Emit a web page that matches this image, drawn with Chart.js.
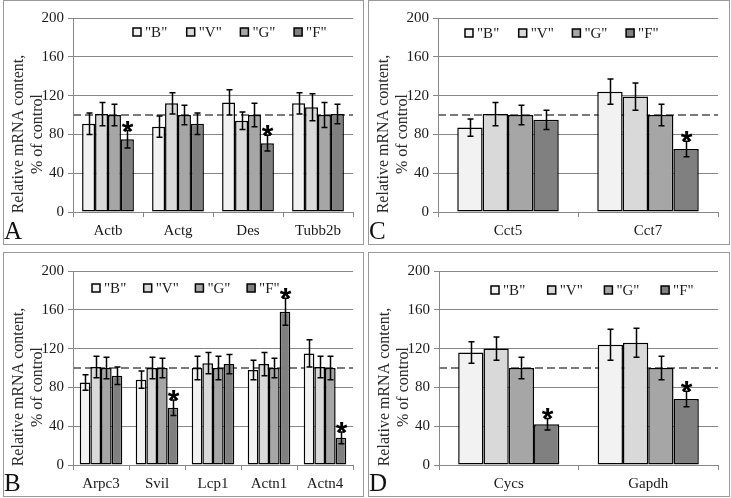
<!DOCTYPE html>
<html><head><meta charset="utf-8">
<script src="https://cdn.jsdelivr.net/npm/chart.js@4"></script>
<style>
html,body{margin:0;padding:0;background:#fff;width:731px;height:498px;overflow:hidden;}
.panel{position:absolute;}
.frame{position:absolute;border:1px solid #9a9a9a;box-sizing:border-box;pointer-events:none;}
</style></head><body>
<div class="panel" style="left:3px;top:0px;width:361px;height:245px"><canvas id="cA"></canvas></div>
<div class="panel" style="left:368px;top:0px;width:362px;height:245px"><canvas id="cC"></canvas></div>
<div class="panel" style="left:3px;top:252px;width:361px;height:245px"><canvas id="cB"></canvas></div>
<div class="panel" style="left:368px;top:252px;width:362px;height:245px"><canvas id="cD"></canvas></div>
<div class="frame" style="left:3px;top:0px;width:361px;height:245px"></div>
<div class="frame" style="left:368px;top:0px;width:362px;height:245px"></div>
<div class="frame" style="left:3px;top:252px;width:361px;height:245px"></div>
<div class="frame" style="left:368px;top:252px;width:362px;height:245px"></div>
<script>
// ---- data ----
const seriesNames = ['"B"', '"V"', '"G"', '"F"'];
const yTicks = [0, 40, 80, 120, 160, 200];
const yTitle = ['Relative mRNA content,', '% of control'];

// Panel A
const genesA = ['Actb', 'Actg', 'Des', 'Tubb2b'];
const A_B = [91, 88, 113, 112];   const A_Berr = [11, 11, 13, 11];
const A_V = [101, 112, 94, 108];  const A_Verr = [12, 11, 9, 14];
const A_G = [100, 100, 100, 100]; const A_Gerr = [11, 10, 12, 13];
const A_F = [75, 91, 71, 101];    const A_Ferr = [9, 11, 8, 10];
const A_star = [true, false, true, false];

// Panel B
const genesB = ['Arpc3', 'Svil', 'Lcp1', 'Actn1', 'Actn4'];
const B_B = [85, 88, 100, 98, 115];     const B_Berr = [8, 9, 12, 10, 14];
const B_V = [101, 100, 105, 104, 101];  const B_Verr = [11, 11, 11, 12, 11];
const B_G = [100, 100, 100, 100, 100];  const B_Gerr = [11, 10, 12, 10, 12];
const B_F = [92, 59, 104, 158, 28];     const B_Ferr = [9, 8, 10, 14, 6];
const B_star = [false, true, false, true, true];

// Panel C
const genesC = ['Cct5', 'Cct7'];
const C_B = [87, 124];  const C_Berr = [9, 13];
const C_V = [101, 119]; const C_Verr = [12, 14];
const C_G = [100, 100]; const C_Gerr = [10, 11];
const C_F = [95, 65];   const C_Ferr = [10, 8];
const C_star = [false, true];

// Panel D
const genesD = ['Cycs', 'Gapdh'];
const D_B = [116, 124]; const D_Berr = [11, 16];
const D_V = [120, 126]; const D_Verr = [12, 15];
const D_G = [100, 100]; const D_Gerr = [11, 12];
const D_F = [42, 68];   const D_Ferr = [6, 8];
const D_star = [true, true];

const controlLevel = 100;

// ---- style ----
const COLORS = ['#f2f2f2', '#d9d9d9', '#a6a6a6', '#808080'];
const GRID = '#878787';
const TEXT = '#1a1a1a';
const SERIF = "'Liberation Serif','Times New Roman',serif";
Chart.defaults.font.family = SERIF;
Chart.defaults.font.size = 15;
Chart.defaults.color = TEXT;

const decor = {
  id: 'decor',
  beforeDatasetsDraw(chart, args, o) {
    const {ctx, chartArea: a, scales: {y}} = chart;
    const yy = Math.round(y.getPixelForValue(controlLevel));
    ctx.save();
    ctx.strokeStyle = '#7a7a7a'; ctx.lineWidth = 2; ctx.setLineDash([8, 4]);
    ctx.beginPath(); ctx.moveTo(a.left, yy); ctx.lineTo(a.right, yy); ctx.stroke();
    ctx.restore();
  },
  afterDatasetsDraw(chart, args, o) {
    const {ctx, scales: {y}} = chart;
    ctx.save();
    chart.data.datasets.forEach((ds, i) => {
      const meta = chart.getDatasetMeta(i);
      meta.data.forEach((el, j) => {
        const v = ds.data[j], e = ds.errors[j];
        const x = Math.round(el.x) + 0.5;
        const t = y.getPixelForValue(v + e), b = y.getPixelForValue(v - e);
        ctx.strokeStyle = '#000'; ctx.lineWidth = 1.5; ctx.setLineDash([]);
        ctx.beginPath();
        ctx.moveTo(x, t); ctx.lineTo(x, b);
        ctx.moveTo(x - 3, t); ctx.lineTo(x + 3, t);
        ctx.moveTo(x - 3, b); ctx.lineTo(x + 3, b);
        ctx.stroke();
        if (ds.stars && ds.stars[j]) {
          ctx.fillStyle = '#000';
          ctx.font = "bold 30px 'Liberation Sans', Arial, sans-serif";
          ctx.textAlign = 'center'; ctx.textBaseline = 'alphabetic';
          ctx.fillText('*', x, t + 10);
        }
      });
    });
    ctx.restore();
  },
  afterDraw(chart, args, o) {
    const {ctx, chartArea: a} = chart;
    ctx.save();
    // legend
    ctx.font = '15px ' + SERIF;
    ctx.textBaseline = 'middle'; ctx.textAlign = 'left';
    const ly = a.top + o.legendY;
    chart.data.datasets.forEach((ds, i) => {
      const bx = a.left + o.legendX + i * o.legendDX;
      ctx.fillStyle = ds.backgroundColor;
      ctx.fillRect(bx, ly - 4, 8, 8);
      ctx.strokeStyle = '#000'; ctx.lineWidth = 1.5;
      ctx.strokeRect(bx, ly - 4, 8, 8);
      ctx.fillStyle = TEXT;
      ctx.fillText(ds.label, bx + 12, ly + 1);
    });
    // y title
    const cy = (a.top + a.bottom) / 2 + 19;
    ctx.font = '16px ' + SERIF;
    ctx.textAlign = 'center'; ctx.textBaseline = 'middle';
    ctx.fillStyle = '#2a2a2a';
    yTitle.forEach((line, k) => {
      ctx.save();
      ctx.translate(a.left + (k === 0 ? -54 : -35), cy);
      ctx.rotate(-Math.PI / 2);
      ctx.fillText(line, 0, 0);
      ctx.restore();
    });
    // panel letter
    ctx.font = '25px ' + SERIF;
    ctx.textAlign = 'left'; ctx.textBaseline = 'alphabetic';
    ctx.fillStyle = '#111';
    ctx.fillText(o.letter, 1, chart.height - 6);
    ctx.restore();
  }
};

const Y_W = 60, X_H = 30;
function makeChart(id, genes, vals, errs, stars, cfg) {
  const datasets = seriesNames.map((name, k) => ({
    label: name, data: vals[k], errors: errs[k], stars: k === 3 ? stars : null,
    backgroundColor: COLORS[k], borderColor: '#000', borderWidth: 1.5, borderSkipped: false,
    categoryPercentage: cfg.catPct, barPercentage: 1.0
  }));
  const p = cfg.area;
  return new Chart(document.getElementById(id), {
    type: 'bar',
    data: {labels: genes, datasets},
    options: {
      responsive: true, maintainAspectRatio: false, animation: false,
      layout: {padding: {left: p.left - Y_W, right: p.right, top: p.top, bottom: p.bottom - X_H}},
      plugins: {legend: {display: false}, tooltip: {enabled: false}, decor: cfg},
      scales: {
        x: {
          grid: {display: true, drawOnChartArea: false, drawTicks: true, tickLength: 5, color: GRID, offset: true},
          border: {display: true, color: GRID, width: 1},
          ticks: {padding: 5, color: TEXT, font: {size: 15}, maxRotation: 0, autoSkip: false},
          afterFit(s) { s.height = X_H; }
        },
        y: {
          min: yTicks[0], max: yTicks[yTicks.length - 1],
          ticks: {stepSize: yTicks[1] - yTicks[0], padding: 4, color: TEXT, font: {size: 15}},
          grid: {color: GRID, tickLength: 5},
          border: {display: true, color: GRID, width: 1},
          afterFit(s) { s.width = Y_W; }
        }
      }
    },
    plugins: [decor]
  });
}

makeChart('cA', genesA, [A_B, A_V, A_G, A_F], [A_Berr, A_Verr, A_Gerr, A_Ferr], A_star,
  {letter: 'A', catPct: 0.74, area: {left: 70, right: 11, top: 18, bottom: 33}, legendX: 60, legendDX: 53.7, legendY: 14});
makeChart('cC', genesC, [C_B, C_V, C_G, C_F], [C_Berr, C_Verr, C_Gerr, C_Ferr], C_star,
  {letter: 'C', catPct: 0.725, area: {left: 70, right: 12, top: 18, bottom: 33}, legendX: 27, legendDX: 53.7, legendY: 15});
makeChart('cB', genesB, [B_B, B_V, B_G, B_F], [B_Berr, B_Verr, B_Gerr, B_Ferr], B_star,
  {letter: 'B', catPct: 0.76, area: {left: 70, right: 11, top: 19, bottom: 32}, legendX: 19, legendDX: 51.7, legendY: 17});
makeChart('cD', genesD, [D_B, D_V, D_G, D_F], [D_Berr, D_Verr, D_Gerr, D_Ferr], D_star,
  {letter: 'D', catPct: 0.725, area: {left: 71, right: 12, top: 19, bottom: 32}, legendX: 52, legendDX: 56.7, legendY: 19});
</script>
</body></html>
